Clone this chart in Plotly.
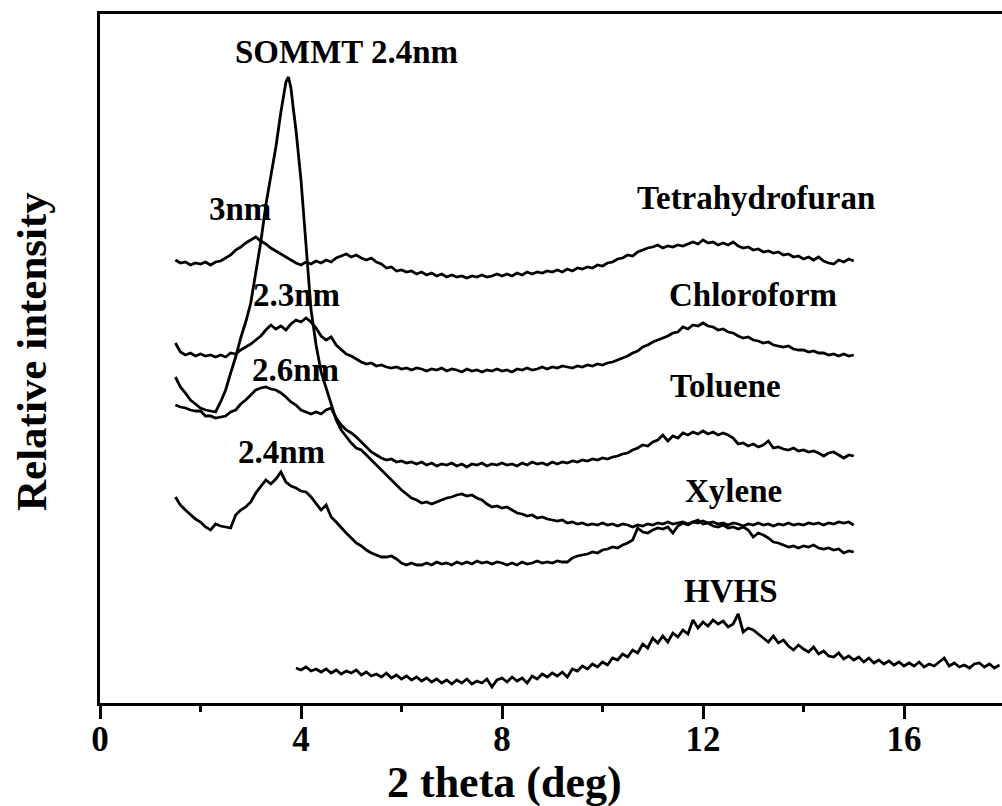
import plotly.graph_objects as go

# ---------------- data (2 theta in deg, relative intensity in arbitrary offset units) ----------------
x_solvent = [round(1.5 + 0.1 * i, 1) for i in range(136)]  # 1.5 ... 15.0

thf = [440, 437, 438, 435, 437, 436, 438, 435, 438, 439,
       442, 445, 450, 453, 457, 460, 463, 459, 456, 452,
       449, 446, 443, 440, 437, 435, 438, 436, 439, 437,
       440, 438, 442, 444, 446, 443, 445, 442, 440, 442,
       438, 436, 432, 433, 429, 430, 428, 429, 426, 428,
       425, 427, 424, 426, 423, 425, 423, 424, 422, 424,
       423, 425, 423, 424, 426, 424, 426, 424, 427, 425,
       428, 426, 428, 427, 429, 428, 430, 428, 431, 429,
       432, 431, 433, 432, 435, 434, 437, 438, 441, 442,
       445, 444, 448, 450, 452, 453, 455, 452, 454, 453,
       455, 454, 456, 458, 456, 460, 457, 458, 455, 457,
       455, 458, 454, 452, 453, 450, 451, 448, 449, 447,
       448, 445, 446, 443, 444, 441, 443, 440, 443, 439,
       437, 436, 440, 438, 441, 439]

chloroform = [357, 348, 345, 347, 344, 346, 344, 345, 343, 345,
              343, 347, 346, 350, 353, 356, 360, 364, 370, 375,
              371, 374, 370, 376, 380, 378, 382, 378, 372, 364,
              360, 363, 355, 350, 346, 344, 341, 338, 336, 337,
              334, 335, 333, 332, 333, 331, 332, 330, 332, 331,
              329, 331, 330, 332, 329, 331, 330, 328, 331, 329,
              330, 328, 330, 329, 331, 329, 330, 328, 331, 330,
              332, 330, 331, 333, 331, 333, 332, 334, 333, 332,
              334, 333, 335, 334, 336, 335, 337, 338, 340, 342,
              344, 347, 349, 353, 355, 358, 360, 362, 364, 367,
              368, 373, 371, 375, 374, 377, 374, 373, 370, 371,
              368, 367, 364, 362, 363, 360, 359, 357, 358, 355,
              354, 353, 354, 351, 350, 350, 348, 349, 347, 347,
              345, 346, 344, 346, 344, 345]

toluene = [295, 293, 292, 290, 289, 289, 284, 284, 282, 283,
           284, 288, 290, 296, 300, 305, 310, 312, 313, 311,
           310, 307, 303, 298, 295, 290, 288, 286, 288, 286,
           290, 292, 282, 275, 270, 267, 263, 258, 252, 248,
           245, 242, 240, 241, 238, 239, 237, 238, 236, 238,
           235, 237, 234, 236, 235, 237, 234, 236, 233, 236,
           235, 237, 234, 236, 235, 237, 235, 236, 234, 237,
           235, 238, 236, 237, 235, 238, 236, 238, 237, 239,
           238, 240, 239, 241, 240, 242, 241, 243, 244, 246,
           247, 250, 252, 255, 254, 258, 260, 265, 259, 264,
           262, 267, 265, 268, 266, 269, 266, 268, 265, 267,
           265, 262, 256, 257, 254, 256, 253, 255, 259, 252,
           253, 251, 250, 252, 249, 250, 248, 249, 247, 244,
           247, 248, 245, 242, 245, 244]

xylene = [203, 195, 190, 185, 181, 178, 173, 170, 176, 174,
          173, 172, 185, 190, 193, 198, 207, 213, 220, 216,
          221, 228, 218, 214, 212, 209, 208, 203, 197, 190,
          195, 183, 178, 172, 167, 162, 157, 154, 150, 147,
          145, 143, 143, 144, 141, 137, 135, 137, 135, 135,
          137, 135, 138, 136, 137, 135, 138, 136, 138, 136,
          139, 137, 138, 136, 138, 137, 135, 137, 135, 138,
          136, 137, 139, 137, 138, 137, 139, 138, 138, 142,
          144, 145, 146, 148, 147, 150, 151, 153, 152, 155,
          157, 160, 172, 168, 167, 170, 172, 171, 173, 167,
          174, 177, 175, 178, 180, 176, 177, 174, 173, 175,
          172, 173, 171, 173, 170, 163, 167, 165, 162, 158,
          157, 155, 153, 154, 152, 154, 153, 155, 152, 151,
          152, 150, 151, 147, 149, 148]

x_sommt = [1.5, 1.6, 1.7, 1.8, 1.9, 2.0, 2.1, 2.2, 2.3, 2.4,
           2.5, 2.6, 2.7, 2.8, 2.9, 3.0, 3.1, 3.2, 3.3, 3.4,
           3.5, 3.6, 3.7, 3.75, 3.8, 3.85, 3.9, 4.0, 4.1, 4.2,
           4.3, 4.4, 4.5, 4.6, 4.7, 4.8, 4.9, 5.0, 5.1, 5.2,
           5.3, 5.4, 5.5, 5.6, 5.7, 5.8, 5.9, 6.0, 6.1, 6.2,
           6.3, 6.4, 6.5, 6.6, 6.7, 6.8, 6.9, 7.0, 7.1, 7.2,
           7.3, 7.4, 7.5, 7.6, 7.7, 7.8, 7.9, 8.0, 8.1, 8.2,
           8.3, 8.4, 8.5, 8.6, 8.7, 8.8, 8.9, 9.0, 9.1, 9.2,
           9.3, 9.4, 9.5, 9.6, 9.7, 9.8, 9.9, 10.0, 10.1, 10.2,
           10.3, 10.4, 10.5, 10.6, 10.7, 10.8, 10.9, 11.0, 11.1, 11.2,
           11.3, 11.4, 11.5, 11.6, 11.7, 11.8, 11.9, 12.0, 12.1, 12.2,
           12.3, 12.4, 12.5, 12.6, 12.7, 12.8, 12.9, 13.0, 13.1, 13.2,
           13.3, 13.4, 13.5, 13.6, 13.7, 13.8, 13.9, 14.0, 14.1, 14.2,
           14.3, 14.4, 14.5, 14.6, 14.7, 14.8, 14.9, 15.0]
sommt = [323, 313, 307, 300, 296, 292, 290, 289, 288, 298,
         310, 327, 343, 362, 378, 397, 428, 458, 495, 523,
         553, 588, 618, 623, 612, 590, 570, 520, 450, 390,
         355, 328, 312, 295, 280, 270, 263, 257, 252, 250,
         245, 240, 235, 230, 224, 220, 215, 210, 206, 202,
         200, 197, 198, 196, 198, 200, 202, 203, 205, 206,
         204, 205, 202, 200, 196, 193, 194, 192, 193, 190,
         187, 186, 184, 185, 182, 183, 181, 180, 179, 180,
         177, 178, 176, 177, 175, 176, 175, 177, 175, 176,
         174, 176, 175, 173, 175, 174, 176, 175, 177, 176,
         178, 176, 177, 178, 176, 178, 177, 179, 177, 178,
         176, 177, 175, 177, 176, 174, 176, 175, 177, 175,
         176, 174, 176, 175, 177, 175, 176, 175, 177, 176,
         177, 175, 177, 176, 178, 177, 178, 175]

x_hvhs = [round(3.9 + 0.1 * i, 1) for i in range(141)]  # 3.9 ... 17.9
hvhs = [32, 30, 33, 29, 31, 28, 31, 27, 30, 26,
        29, 27, 30, 25, 28, 24, 26, 23, 27, 22,
        25, 21, 24, 20, 23, 19, 22, 18, 21, 17,
        20, 16, 20, 17, 21, 16, 19, 17, 21, 13,
        20, 22, 18, 23, 19, 22, 17, 24, 21, 26,
        23, 27, 24, 28, 23, 31, 29, 34, 31, 36,
        33, 38, 35, 42, 40, 46, 43, 50, 47, 56,
        52, 62, 57, 64, 58, 67, 63, 70, 66, 80,
        72, 78, 74, 80, 76, 79, 73, 76, 86, 68,
        72, 70, 66, 62, 58, 64, 57, 60, 54, 50,
        55, 51, 48, 53, 46, 49, 44, 43, 47, 41,
        44, 40, 43, 38, 42, 37, 40, 36, 39, 35,
        38, 34, 37, 34, 38, 33, 36, 34, 38, 42,
        34, 37, 33, 35, 32, 36, 37, 33, 36, 32,
        35]

labels = ["SOMMT 2.4nm", "3nm", "Tetrahydrofuran", "2.3nm", "Chloroform",
          "2.6nm", "Toluene", "2.4nm", "Xylene", "HVHS"]
label_x = [4.9, 2.78, 13.05, 3.92, 13.0, 3.9, 12.45, 3.62, 12.6, 12.55]
label_y = [648, 491, 502, 405, 405, 330, 314, 248, 209, 109]

x_ticks = [0, 4, 8, 12, 16]
x_title = "2 theta (deg)"
y_title = "Relative intensity"

# ---------------- figure ----------------
FONT = "Liberation Serif"
fig = go.Figure()
line_style = dict(color="black", width=2.8)
for name, xs, ys in [("SOMMT", x_sommt, sommt), ("Tetrahydrofuran", x_solvent, thf),
                     ("Chloroform", x_solvent, chloroform), ("Toluene", x_solvent, toluene),
                     ("Xylene", x_solvent, xylene), ("HVHS", x_hvhs, hvhs)]:
    fig.add_trace(go.Scatter(x=xs, y=ys, mode="lines", name=name, line=line_style,
                             showlegend=False, hoverinfo="skip"))

for t, xv, yv in zip(labels, label_x, label_y):
    fig.add_annotation(x=xv, y=yv, text="<b>%s</b>" % t, showarrow=False,
                       font=dict(family=FONT, size=33, color="black"),
                       xanchor="center", yanchor="middle")

# layout geometry (pixels) used to place the two axis titles like the reference
W, H, L, R, T, B = 1002, 806, 100, 0, 14, 103
pw, ph = W - L - R, H - T - B

fig.add_annotation(text="<b>%s</b>" % x_title, showarrow=False,
                   font=dict(family=FONT, size=44, color="black"),
                   xref="paper", yref="paper", x=(504 - L) / pw, y=(H - B - 783) / ph,
                   xanchor="center", yanchor="middle")
fig.add_annotation(text="<b>%s</b>" % y_title, textangle=-90, showarrow=False,
                   font=dict(family=FONT, size=43, color="black"),
                   xref="paper", yref="paper", x=(31 - L) / pw, y=(H - B - 352) / ph,
                   xanchor="center", yanchor="middle")

fig.update_layout(
    width=W, height=H,
    margin=dict(l=L, r=R, t=T, b=B),
    paper_bgcolor="white", plot_bgcolor="white",
    font=dict(family=FONT, color="black"),
    showlegend=False,
)

fig.update_xaxes(
    range=[0, 17.95], tickvals=x_ticks, ticktext=["<b>%d</b>" % v for v in x_ticks],
    showgrid=False, zeroline=False,
    showline=True, linecolor="black", linewidth=3, mirror=True,
    ticks="outside", ticklen=13, tickwidth=3, tickcolor="black",
    minor=dict(tickvals=[2, 6, 10, 14], ticks="outside", ticklen=6, tickwidth=3, tickcolor="black"),
    tickfont=dict(family=FONT, size=35, color="black"),
    ticklabelstandoff=-10,
)
fig.update_yaxes(
    range=[-3, 686], showticklabels=False, ticks="",
    showgrid=False, zeroline=False,
    showline=True, linecolor="black", linewidth=3, mirror=False,
)

fig.write_html("out.html")
